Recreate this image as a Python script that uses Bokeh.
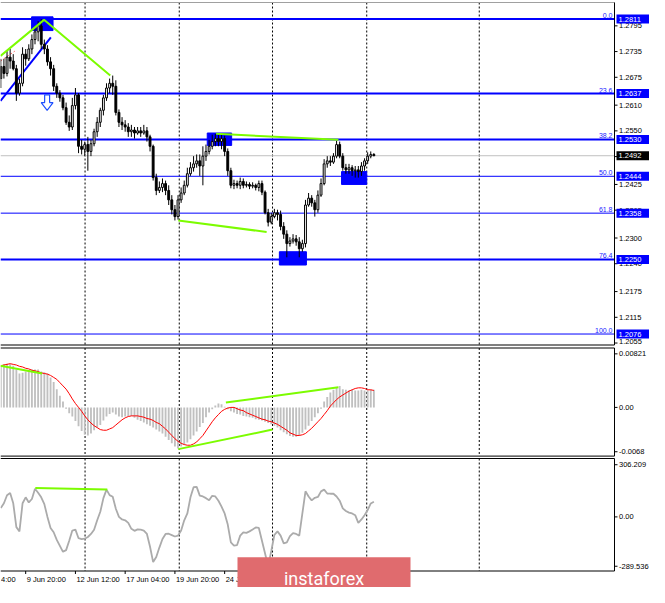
from bokeh.plotting import figure
from bokeh.models import Range1d
from bokeh.layouts import column
from bokeh.embed import file_html
from bokeh.resources import INLINE
from bokeh.core.properties import value

# ---------------- data (H4 bars, bar index 0 = 8 Jun 04:00) ----------------
first_bar = 8
opens = [1.2672, 1.2700, 1.2684, 1.2722, 1.2713, 1.2695, 1.2638, 1.2661, 1.2729, 1.2718,
         1.2741, 1.2763, 1.2781, 1.2795, 1.2752, 1.2741, 1.2711, 1.2695, 1.2654, 1.2638,
         1.2627, 1.2604, 1.2570, 1.2559, 1.2609, 1.2634, 1.2514, 1.2507, 1.2518, 1.2502,
         1.2520, 1.2548, 1.2570, 1.2598, 1.2627, 1.2650, 1.2661, 1.2654, 1.2593, 1.2570,
         1.2564, 1.2559, 1.2548, 1.2552, 1.2545, 1.2550, 1.2545, 1.2550, 1.2536, 1.2514,
         1.2441, 1.2411, 1.2418, 1.2427, 1.2411, 1.2389, 1.2366, 1.2350, 1.2389, 1.2405,
         1.2423, 1.2450, 1.2464, 1.2473, 1.2480, 1.2468, 1.2491, 1.2502, 1.2514, 1.2525,
         1.2532, 1.2525, 1.2532, 1.2502, 1.2457, 1.2423, 1.2427, 1.2423, 1.2432, 1.2423,
         1.2425, 1.2421, 1.2423, 1.2418, 1.2427, 1.2407, 1.2359, 1.2337, 1.2350, 1.2359,
         1.2355, 1.2327, 1.2309, 1.2287, 1.2293, 1.2298, 1.2291, 1.2275, 1.2287, 1.2377,
         1.2393, 1.2382, 1.2366, 1.2400, 1.2427, 1.2473, 1.2480, 1.2477, 1.2491, 1.2518,
         1.2491, 1.2464, 1.2459, 1.2464, 1.2457, 1.2459, 1.2455, 1.2468, 1.2480, 1.2491,
         1.2495]
closes = [1.2700, 1.2684, 1.2722, 1.2713, 1.2695, 1.2638, 1.2661, 1.2729, 1.2718, 1.2741,
          1.2763, 1.2781, 1.2795, 1.2752, 1.2741, 1.2711, 1.2695, 1.2654, 1.2638, 1.2627,
          1.2604, 1.2570, 1.2559, 1.2609, 1.2634, 1.2514, 1.2507, 1.2518, 1.2502, 1.2520,
          1.2548, 1.2570, 1.2598, 1.2627, 1.2650, 1.2661, 1.2654, 1.2593, 1.2570, 1.2564,
          1.2559, 1.2548, 1.2552, 1.2545, 1.2550, 1.2545, 1.2550, 1.2536, 1.2514, 1.2441,
          1.2411, 1.2418, 1.2427, 1.2411, 1.2389, 1.2366, 1.2350, 1.2389, 1.2405, 1.2423,
          1.2450, 1.2464, 1.2473, 1.2480, 1.2468, 1.2491, 1.2502, 1.2514, 1.2525, 1.2532,
          1.2525, 1.2532, 1.2502, 1.2457, 1.2423, 1.2427, 1.2423, 1.2432, 1.2423, 1.2425,
          1.2421, 1.2423, 1.2418, 1.2427, 1.2407, 1.2359, 1.2337, 1.2350, 1.2359, 1.2355,
          1.2327, 1.2309, 1.2287, 1.2293, 1.2298, 1.2291, 1.2275, 1.2287, 1.2377, 1.2393,
          1.2382, 1.2366, 1.2400, 1.2427, 1.2473, 1.2480, 1.2477, 1.2491, 1.2518, 1.2491,
          1.2464, 1.2459, 1.2464, 1.2457, 1.2459, 1.2455, 1.2468, 1.2480, 1.2491, 1.2495,
          1.2492]
highs = [1.2718, 1.2718, 1.2736, 1.2741, 1.2729, 1.2704, 1.2672, 1.2745, 1.2741, 1.2752,
         1.2775, 1.2791, 1.2806, 1.2811, 1.2763, 1.2750, 1.2722, 1.2704, 1.2661, 1.2645,
         1.2634, 1.2616, 1.2586, 1.2627, 1.2650, 1.2638, 1.2529, 1.2525, 1.2536, 1.2529,
         1.2555, 1.2582, 1.2604, 1.2634, 1.2661, 1.2672, 1.2679, 1.2668, 1.2600, 1.2582,
         1.2575, 1.2568, 1.2564, 1.2559, 1.2559, 1.2559, 1.2564, 1.2559, 1.2541, 1.2518,
         1.2450, 1.2432, 1.2439, 1.2434, 1.2423, 1.2400, 1.2377, 1.2400, 1.2418, 1.2434,
         1.2464, 1.2477, 1.2491, 1.2495, 1.2495, 1.2514, 1.2518, 1.2529, 1.2541, 1.2543,
         1.2541, 1.2543, 1.2539, 1.2509, 1.2464, 1.2436, 1.2434, 1.2441, 1.2439, 1.2432,
         1.2430, 1.2430, 1.2427, 1.2434, 1.2434, 1.2411, 1.2368, 1.2359, 1.2368, 1.2366,
         1.2364, 1.2337, 1.2318, 1.2302, 1.2309, 1.2307, 1.2302, 1.2296, 1.2389, 1.2405,
         1.2400, 1.2389, 1.2411, 1.2439, 1.2484, 1.2491, 1.2491, 1.2498, 1.2527, 1.2525,
         1.2498, 1.2473, 1.2473, 1.2470, 1.2468, 1.2468, 1.2477, 1.2486, 1.2500, 1.2502,
         1.2498]
lows = [1.2650, 1.2672, 1.2677, 1.2695, 1.2691, 1.2620, 1.2632, 1.2654, 1.2702, 1.2713,
        1.2729, 1.2752, 1.2759, 1.2741, 1.2729, 1.2702, 1.2679, 1.2643, 1.2627, 1.2618,
        1.2598, 1.2564, 1.2550, 1.2552, 1.2600, 1.2498, 1.2495, 1.2491, 1.2457, 1.2491,
        1.2514, 1.2536, 1.2559, 1.2586, 1.2620, 1.2638, 1.2634, 1.2586, 1.2559, 1.2552,
        1.2548, 1.2536, 1.2536, 1.2532, 1.2541, 1.2536, 1.2541, 1.2525, 1.2502, 1.2434,
        1.2400, 1.2405, 1.2407, 1.2400, 1.2377, 1.2355, 1.2341, 1.2343, 1.2382, 1.2400,
        1.2418, 1.2445, 1.2455, 1.2464, 1.2445, 1.2423, 1.2480, 1.2495, 1.2507, 1.2514,
        1.2514, 1.2507, 1.2491, 1.2445, 1.2416, 1.2414, 1.2416, 1.2414, 1.2416, 1.2418,
        1.2414, 1.2416, 1.2411, 1.2409, 1.2400, 1.2355, 1.2327, 1.2332, 1.2346, 1.2341,
        1.2318, 1.2298, 1.2255, 1.2280, 1.2287, 1.2282, 1.2255, 1.2268, 1.2278, 1.2373,
        1.2373, 1.2350, 1.2359, 1.2396, 1.2423, 1.2464, 1.2468, 1.2473, 1.2486, 1.2486,
        1.2457, 1.2450, 1.2450, 1.2445, 1.2441, 1.2441, 1.2445, 1.2457, 1.2473, 1.2486,
        1.2491]
macd_hist = [0.0064, 0.0066, 0.0067, 0.0066, 0.0064, 0.0058, 0.0052, 0.0053, 0.0055, 0.0057,
             0.0058, 0.0058, 0.0058, 0.0055, 0.0054, 0.0052, 0.0046, 0.0039, 0.0028, 0.0018,
             0.0009, -0.0002, -0.0009, -0.0014, -0.0021, -0.0029, -0.0036, -0.0042, -0.0043, -0.0040,
             -0.0035, -0.0031, -0.0027, -0.0020, -0.0014, -0.0010, -0.0008, -0.0011, -0.0014, -0.0015,
             -0.0014, -0.0013, -0.0013, -0.0016, -0.0019, -0.0021, -0.0023, -0.0026, -0.0028, -0.0031,
             -0.0034, -0.0037, -0.0040, -0.0045, -0.0050, -0.0055, -0.0060, -0.0063, -0.0060, -0.0057,
             -0.0054, -0.0049, -0.0043, -0.0037, -0.0030, -0.0024, -0.0015, -0.0008, -0.0003, 0.0003,
             0.0006, 0.0005, 0.0001, -0.0003, -0.0006, -0.0008, -0.0010, -0.0011, -0.0013, -0.0014,
             -0.0015, -0.0016, -0.0018, -0.0019, -0.0020, -0.0022, -0.0024, -0.0026, -0.0028, -0.0031,
             -0.0035, -0.0038, -0.0041, -0.0044, -0.0045, -0.0045, -0.0043, -0.0039, -0.0034, -0.0028,
             -0.0021, -0.0015, -0.0009, -0.0002, 0.0009, 0.0016, 0.0023, 0.0027, 0.0031, 0.0033,
             0.0028, 0.0027, 0.0026, 0.0027, 0.0026, 0.0026, 0.0027, 0.0026, 0.0026, 0.0027,
             0.0027]
macd_signal = [0.0064, 0.0065, 0.0066, 0.0067, 0.0066, 0.0065, 0.0063, 0.0062, 0.0060, 0.0059,
               0.0057, 0.0056, 0.0055, 0.0053, 0.0052, 0.0051, 0.0049, 0.0046, 0.0043, 0.0038,
               0.0033, 0.0028, 0.0021, 0.0013, 0.0006, 0.0000, -0.0006, -0.0013, -0.0019, -0.0024,
               -0.0028, -0.0031, -0.0034, -0.0035, -0.0035, -0.0033, -0.0031, -0.0027, -0.0023, -0.0019,
               -0.0016, -0.0014, -0.0013, -0.0013, -0.0013, -0.0014, -0.0015, -0.0017, -0.0018, -0.0020,
               -0.0023, -0.0025, -0.0029, -0.0033, -0.0038, -0.0043, -0.0048, -0.0052, -0.0055, -0.0057,
               -0.0058, -0.0058, -0.0056, -0.0053, -0.0048, -0.0043, -0.0036, -0.0029, -0.0022, -0.0016,
               -0.0011, -0.0006, -0.0003, -0.0001, 0.0000, 0.0000, -0.0002, -0.0004, -0.0005, -0.0008,
               -0.0010, -0.0012, -0.0014, -0.0016, -0.0018, -0.0019, -0.0021, -0.0022, -0.0024, -0.0026,
               -0.0029, -0.0032, -0.0035, -0.0039, -0.0041, -0.0043, -0.0043, -0.0042, -0.0040, -0.0036,
               -0.0032, -0.0027, -0.0022, -0.0017, -0.0011, -0.0005, 0.0002, 0.0007, 0.0012, 0.0016,
               0.0019, 0.0022, 0.0025, 0.0027, 0.0029, 0.0030, 0.0030, 0.0029, 0.0027, 0.0027,
               0.0026]
cci = [52, 80, 127, 140, 80, -60, -85, 80, 115, 85,
       105, 165, 142, 115, 75, 0, -65, -90, -135, -170,
       -205, -195, -140, -80, -75, -125, -130, -128, -118, -100,
       -75, -20, 30, 110, 160, 128, 118, 48, 0, -15,
       -20, -35, -70, -82, -73, -75, -80, -100, -175, -265,
       -235, -180, -130, -100, -99, -107, -115, -110, -80, -20,
       20, 115, 174, 176, 125, 120, 110, 98, 124, 120,
       95, 60, 20, -45, -150, -168, -165, -110, -91, -94,
       -85, -74, -62, -65, -140, -215, -289.5, -200, -105, -85,
       -110, -155, -150, -113, -95, -100, -110, 20, 150, 120,
       97, 112, 117, 150, 160, 137, 136, 136, 120, 95,
       50, 35, 25, 20, 10, -35, -15, 10, 40, 79,
       89]
bars = list(range(first_bar, first_bar + len(closes)))

time_ticks = [16, 32, 48, 64, 80, 96, 112]
time_labels = ["9 Jun 20:00", "12 Jun 12:00", "17 Jun 04:00", "19 Jun 20:00",
               "24 Jun 12:00", "29 Jun 04:00", "1 Jul 20:00"]
edge_time_label = "4:00"      # visible tail of the "8 Jun 04:00" label at the left edge
price_ticks = [1.2795, 1.2735, 1.2675, 1.2610, 1.2550, 1.2490, 1.2425, 1.2365,
               1.2300, 1.2240, 1.2175, 1.2115, 1.2055]
fib_levels = [1.2811, 1.2637, 1.2530, 1.2444, 1.2358, 1.2250, 1.2076]
fib_names = ["0.0", "23.6", "38.2", "50.0", "61.8", "76.4", "100.0"]
fib_widths = [2, 2, 2, 1, 1, 2, 1]
last_price = 1.2492
macd_ticks = [0.00821, 0.0, -0.0068]
macd_tick_labels = ["0.00821", "0.00", "-0.0068"]
cci_ticks = [306.209, 0.0, -289.536]
cci_tick_labels = ["306.209", "0.00", "-289.536"]
separators = [35.1, 65.4, 95.4, 125.7, 161.9]

# drawn analysis objects (bar index, value)
zone_left = [17.9, 74.4, 97.6, 117.6]
zone_right = [24.8, 82.25, 106.3, 125.7]
zone_top = [1.2816, 1.2545, 1.2268, 1.2455]
zone_bottom = [1.2784, 1.2516, 1.2237, 1.2425]
green_main = [([7.9, 21.9, 43.2], [1.2725, 1.2809, 1.2679]),
              ([77.25, 116.6], [1.2543, 1.2529]),
              ([65.1, 93.5], [1.2341, 1.2314])]
blue_trend = ([7.9, 24.1], [1.2620, 1.2768])
red_dash = ([7.9, 12.5], [1.2713, 1.2736])
green_macd = [([7.9, 21.3], [0.0064, 0.0052]),
              ([80.4, 116.6], [0.00075, 0.0031]),
              ([65.1, 95.4], [-0.0064, -0.0034])]
green_cci = ([19.1, 42.25], [170, 161])
arrow_x = [22.1, 23.7, 23.7, 24.8, 22.9, 21.0, 22.1]
arrow_y = [1.2634, 1.2634, 1.2616, 1.2616, 1.2598, 1.2616, 1.2616]

# ---------------- layout ----------------
FONT = "Liberation Sans"
W = 649                     # canvas width
CW = 614                    # chart-area width (price scale to its right)
X_START, X_END = 7.9, 205.4
PX_BAR = CW / (X_END - X_START)
X_EXT = X_START + W / PX_BAR
xr = Range1d(X_START, X_EXT)

H_MAIN, H_MACD, H_CCI = 346, 111, 130
main_yr = Range1d(1.2811 - (H_MAIN - 18.5) / 4286.0, 1.2811 + 18.5 / 4286.0)
macd_yr = Range1d(-(H_MACD - 60.9) / 6522.0, 60.9 / 6522.0)
cci_yr = Range1d(-(H_CCI - 59.4) / 0.1704, 59.4 / 0.1704)


def dx(px):
    return px / PX_BAR


def xpx(px):
    return X_START + px / PX_BAR


class Panel:
    def __init__(self, height, yr, top_px, bottom_px):
        self.h, self.yr = height, yr
        p = figure(width=W, height=height, x_range=xr, y_range=yr,
                   output_backend="svg", toolbar_location=None,
                   x_axis_location=None, y_axis_location=None, min_border=0)
        p.outline_line_color = None
        p.grid.visible = False
        p.background_fill_color = "white"
        p.border_fill_color = "white"
        self.p = p
        self.top_v, self.bot_v = self.ypx(top_px), self.ypx(bottom_px)
        # vertical period separators
        p.segment(x0=separators, x1=separators, y0=[self.top_v] * len(separators),
                  y1=[self.bot_v] * len(separators), line_color="black",
                  line_dash="2 2", line_width=1)

    def ypx(self, px):
        return self.yr.end - px * (self.yr.end - self.yr.start) / self.h

    def dy(self, px):
        return px * (self.yr.end - self.yr.start) / self.h

    def frame(self, top_color="black"):
        p = self.p
        p.segment(x0=[X_START], x1=[X_END], y0=[self.top_v], y1=[self.top_v],
                  line_color=top_color, line_width=1)
        p.segment(x0=[X_START, X_END], x1=[X_END, X_END], y0=[self.bot_v, self.top_v],
                  y1=[self.bot_v, self.bot_v], line_color="black", line_width=1)

    def price_scale(self, ticks, labels):
        p = self.p
        p.segment(x0=[X_END] * len(ticks), x1=[X_END + dx(3)] * len(ticks), y0=ticks, y1=ticks,
                  line_color="black", line_width=1)
        lo, hi = self.ypx(self.h - 5), self.ypx(5)
        ty = [min(max(t, lo), hi) for t in ticks]   # keep label text inside the canvas
        p.text(x=[X_END + dx(4.5)] * len(ticks), y=ty, text=labels,
               text_font=value(FONT), text_font_size="7.5px", text_color="black",
               text_align="left", text_baseline="middle")


# ---- main price panel ----
mp = Panel(H_MAIN, main_yr, 2, 344.5)
main = mp.p
main.segment(x0=[X_START], x1=[X_END], y0=[last_price], y1=[last_price],
             line_color="#C0C0C0", line_width=1)
for lvl, w in zip(fib_levels, fib_widths):
    main.segment(x0=[X_START], x1=[X_END], y0=[lvl], y1=[lvl], line_color="#0000FF", line_width=w)

main.quad(left=zone_left, right=zone_right, top=zone_top, bottom=zone_bottom,
          fill_color="#0000FF", line_color="#0000FF")
main.line(blue_trend[0], blue_trend[1], line_color="#0000FF", line_width=2)
main.line(red_dash[0], red_dash[1], line_color="#FF6060", line_width=1, line_dash="2 2")

main.segment(x0=bars, y0=highs, x1=bars, y1=lows, line_color="black", line_width=1)
up_x, up_t, up_b, dn_x, dn_t, dn_b = [], [], [], [], [], []
for b, o, c in zip(bars, opens, closes):
    if c >= o:
        up_x.append(b); up_t.append(c); up_b.append(o)
    else:
        dn_x.append(b); dn_t.append(o); dn_b.append(c)
main.vbar(x=up_x, width=0.6, top=up_t, bottom=up_b, fill_color="white", line_color="black", line_width=1)
main.vbar(x=dn_x, width=0.6, top=dn_t, bottom=dn_b, fill_color="black", line_color="black", line_width=1)

for gx, gy in green_main:
    main.line(gx, gy, line_color="#7CFC00", line_width=2)
main.patch(arrow_x, arrow_y, fill_color="white", line_color="#1E50FF", line_width=1.2)

main.text(x=[X_END - dx(2)] * len(fib_levels), y=[v + mp.dy(1) for v in fib_levels], text=fib_names,
          text_font=value(FONT), text_font_size="7px", text_color="#2020FF",
          text_align="right", text_baseline="bottom")
mp.frame(top_color="#A0A0A0")
mp.price_scale(price_ticks, [f"{t:.4f}" for t in price_ticks])

tag_levels = fib_levels + [last_price]
tag_colors = ["#0000FF"] * len(fib_levels) + ["black"]
main.quad(left=[X_END + dx(2)] * len(tag_levels), right=[X_EXT + 1] * len(tag_levels),
          top=[v + mp.dy(4.5) for v in tag_levels], bottom=[v - mp.dy(4.5) for v in tag_levels],
          fill_color=tag_colors, line_color=None)
main.text(x=[X_END + dx(4)] * len(tag_levels), y=tag_levels, text=[f"{v:.4f}" for v in tag_levels],
          text_font=value(FONT), text_font_size="7.5px", text_color="white",
          text_align="left", text_baseline="middle")

# ---- MACD panel ----
mc = Panel(H_MACD, macd_yr, 1.5, 109.6)
macd = mc.p
macd.vbar(x=bars, width=0.6, top=macd_hist, bottom=0, fill_color="#C0C0C0", line_color=None)
macd.line(bars, macd_signal, line_color="#FF0000", line_width=1)
for gx, gy in green_macd:
    macd.line(gx, gy, line_color="#7CFC00", line_width=2)
mc.frame()
mc.price_scale(macd_ticks, macd_tick_labels)

# ---- CCI panel ----
cc = Panel(H_CCI, cci_yr, 1, 113.5)
cfig = cc.p
cfig.line(bars, cci, line_color="#ABABAB", line_width=1.8)
cfig.line(green_cci[0], green_cci[1], line_color="#7CFC00", line_width=2)
cc.frame()
cc.price_scale(cci_ticks, cci_tick_labels)
# time scale
cfig.segment(x0=time_ticks, x1=time_ticks, y0=[cc.bot_v] * len(time_ticks),
             y1=[cc.ypx(116.5)] * len(time_ticks), line_color="black", line_width=1)
cfig.text(x=[t + dx(1) for t in time_ticks], y=[cc.ypx(121.5)] * len(time_ticks), text=time_labels,
          text_font=value(FONT), text_font_size="7.5px", text_color="black",
          text_align="left", text_baseline="middle")
cfig.text(x=[X_START + dx(0.5)], y=[cc.ypx(121.5)], text=[edge_time_label],
          text_font=value(FONT), text_font_size="7.5px", text_color="black",
          text_align="left", text_baseline="middle")
# watermark logo
cfig.quad(left=[xpx(237)], right=[xpx(410)], top=[cc.ypx(99.8)], bottom=[cc.ypx(140)],
          fill_color="#E06B6E", line_color=None)
cfig.text(x=[xpx(323.5)], y=[cc.ypx(120.5)], text=["instaforex"],
          text_font=value("Roboto"), text_font_size="18px", text_color="white",
          text_align="center", text_baseline="alphabetic")

layout = column(main, macd, cfig, spacing=0)
open("out.html", "w").write(file_html(layout, INLINE))
